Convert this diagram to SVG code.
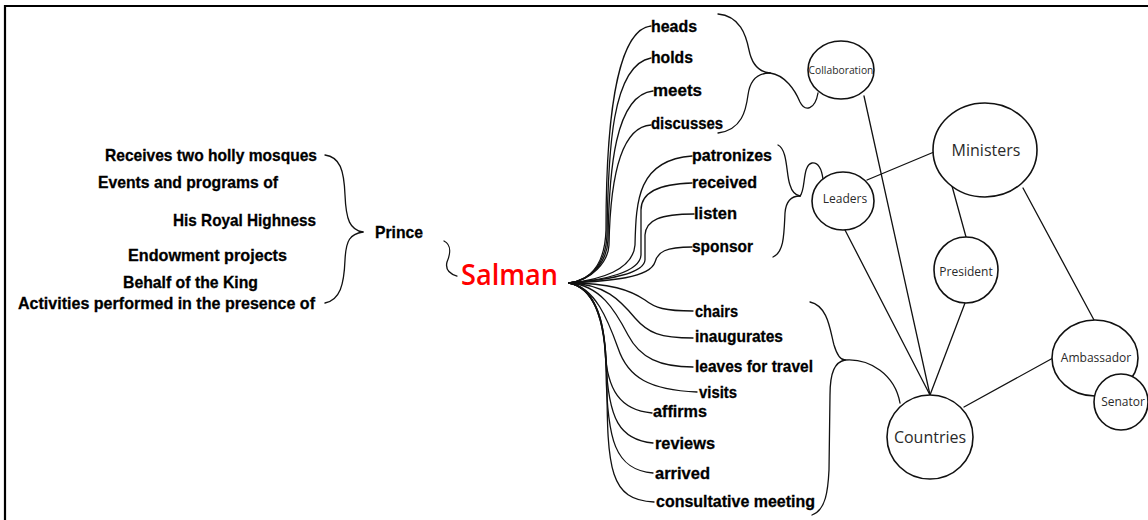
<svg xmlns="http://www.w3.org/2000/svg" width="1148" height="520" viewBox="0 0 1148 520">
<style>
.frame{stroke:#000;stroke-width:2.2;fill:none}
.c{fill:none;stroke:#111;stroke-width:1.3;stroke-linecap:round}
.e{fill:#fff;stroke:#111;stroke-width:1.6}
.v{font-family:"Liberation Sans",Arial,sans-serif;font-weight:bold;font-size:17px;fill:#000;stroke:#000;stroke-width:0.3}
.lt{font-family:"Liberation Sans",Arial,sans-serif;font-weight:bold;font-size:17px;fill:#000;stroke:#000;stroke-width:0.3}
.n{font-family:"Open Sans","Noto Sans",sans-serif;fill:#2a2a2a;text-anchor:middle}
</style>
<rect width="1148" height="520" fill="#fff"/>
<path class="frame" d="M4,6 H1148 M5,5 V520"/>

<g id="connectors">
  <path class="c" d="M325,155 C340,157 344,170 345,195 C346,220 350,230 363,232"/>
  <path class="c" d="M325,303 C340,300 344,285 345,260 C346,240 350,234 363,232"/>
  <path class="c" d="M444,241 C452,245 450,255 447,262 C445,270 450,274 457,276"/>
  <path class="c" d="M569,283 C592,280 605,262 606,230 C606,130 615,30 651,26"/>
  <path class="c" d="M569,283 C592,280 606,262 607,235 C608,150 612,65 651,58"/>
  <path class="c" d="M569,283 C592,280 607,262 608,240 C609,170 615,95 653,91"/>
  <path class="c" d="M569,283 C592,280 608,262 609,245 C610,190 617,127 651,125"/>
  <path class="c" d="M569,283 C600,280 633,270 635,245 C636,200 638,160 692,156"/>
  <path class="c" d="M569,283 C605,280 640,272 641,255 L641,210 C641,195 655,184 692,183"/>
  <path class="c" d="M569,283 C610,280 644,273 645,260 L645,235 C646,220 660,214 694,214"/>
  <path class="c" d="M569,283 C610,281 650,278 655,262 C658,252 665,247 692,247"/>
  <path class="c" d="M569,283 C610,283 630,290 645,300 C655,308 665,311 693,311"/>
  <path class="c" d="M569,283 C605,284 620,300 635,318 C648,333 660,338 693,338"/>
  <path class="c" d="M569,283 C600,285 615,310 628,335 C640,358 660,367 693,367"/>
  <path class="c" d="M569,283 C595,287 608,320 618,348 C628,378 650,390 697,392"/>
  <path class="c" d="M569,283 C590,287 603,310 605,350 C607,390 620,410 652,413"/>
  <path class="c" d="M569,283 C590,287 604,310 606,360 C608,420 620,440 653,443"/>
  <path class="c" d="M569,283 C590,287 605,310 606,370 C607,440 615,470 653,473"/>
  <path class="c" d="M569,283 C590,287 606,310 607,380 C607,470 610,500 654,502"/>
  <path class="c" d="M718,14 C740,16 746,35 749,50 C752,65 760,72 770,73"/>
  <path class="c" d="M718,133 C742,130 746,110 748,95 C750,80 757,73 770,73"/>
  <path class="c" d="M770,73 C785,75 795,90 800,102 C805,112 815,110 818,93"/>
  <path class="c" d="M778,145 C788,150 786,175 790,185 C792,192 795,195 800,196"/>
  <path class="c" d="M773,257 C784,252 784,235 785,213 C786,200 792,196 800,196"/>
  <path class="c" d="M800,196 C806,190 802,165 812,163 C820,162 822,172 823,179"/>
  <path class="c" d="M810,302 C828,306 830,330 834,345 C837,355 840,360 845,360"/>
  <path class="c" d="M812,515 C826,510 828,490 829,470 L830,395 C830,372 835,362 845,360"/>
  <path class="c" d="M845,360 C870,358 895,375 900,403"/>
  <path class="c" d="M864,96 L930,395"/>
  <path class="c" d="M845,230 L930,395"/>
  <path class="c" d="M867,180 L934,152"/>
  <path class="c" d="M952,186 L966,237"/>
  <path class="c" d="M1023,188 L1094,320"/>
  <path class="c" d="M965,303 L930,395"/>
  <path class="c" d="M1053,358 L964,407"/>
</g>

<g id="left-labels">
  <text class="lt" x="105" y="161" textLength="212" lengthAdjust="spacingAndGlyphs">Receives two holly mosques</text>
  <text class="lt" x="98" y="188" textLength="180" lengthAdjust="spacingAndGlyphs">Events and programs of</text>
  <text class="lt" x="173" y="226" textLength="143" lengthAdjust="spacingAndGlyphs">His Royal Highness</text>
  <text class="lt" x="128" y="261" textLength="159" lengthAdjust="spacingAndGlyphs">Endowment projects</text>
  <text class="lt" x="123" y="288" textLength="135" lengthAdjust="spacingAndGlyphs">Behalf of the King</text>
  <text class="lt" x="18" y="309" textLength="297" lengthAdjust="spacingAndGlyphs">Activities performed in the presence of</text>
</g>
<g id="prince"><text class="lt" x="375" y="238" textLength="48" lengthAdjust="spacingAndGlyphs">Prince</text></g>
<g id="salman"><text x="461" y="285" font-family="'Open Sans','Noto Sans',sans-serif" font-size="28" font-weight="600" fill="#ff0000" textLength="97" lengthAdjust="spacingAndGlyphs">Salman</text></g>

<g id="verbs">
  <text class="v" x="651" y="32" textLength="46" lengthAdjust="spacingAndGlyphs">heads</text>
  <text class="v" x="651" y="63" textLength="42" lengthAdjust="spacingAndGlyphs">holds</text>
  <text class="v" x="653" y="96" textLength="49" lengthAdjust="spacingAndGlyphs">meets</text>
  <text class="v" x="651" y="129" textLength="72" lengthAdjust="spacingAndGlyphs">discusses</text>
  <text class="v" x="692" y="161" textLength="80" lengthAdjust="spacingAndGlyphs">patronizes</text>
  <text class="v" x="692" y="188" textLength="65" lengthAdjust="spacingAndGlyphs">received</text>
  <text class="v" x="694" y="219" textLength="43" lengthAdjust="spacingAndGlyphs">listen</text>
  <text class="v" x="692" y="252" textLength="61" lengthAdjust="spacingAndGlyphs">sponsor</text>
  <text class="v" x="695" y="317" textLength="43" lengthAdjust="spacingAndGlyphs">chairs</text>
  <text class="v" x="695" y="342" textLength="88" lengthAdjust="spacingAndGlyphs">inaugurates</text>
  <text class="v" x="695" y="372" textLength="118" lengthAdjust="spacingAndGlyphs">leaves for travel</text>
  <text class="v" x="699" y="398" textLength="38" lengthAdjust="spacingAndGlyphs">visits</text>
  <text class="v" x="653" y="417" textLength="54" lengthAdjust="spacingAndGlyphs">affirms</text>
  <text class="v" x="655" y="449" textLength="60" lengthAdjust="spacingAndGlyphs">reviews</text>
  <text class="v" x="655" y="479" textLength="55" lengthAdjust="spacingAndGlyphs">arrived</text>
  <text class="v" x="656" y="507" textLength="159" lengthAdjust="spacingAndGlyphs">consultative meeting</text>
</g>

<g id="collaboration"><ellipse class="e" cx="841" cy="70" rx="33" ry="29"/><text class="n" x="841" y="74" font-size="10.3">Collaboration</text></g>
<g id="ministers"><ellipse class="e" cx="985" cy="150" rx="52" ry="47"/><text class="n" x="986" y="156" font-size="16">Ministers</text></g>
<g id="leaders"><ellipse class="e" cx="843" cy="201" rx="31" ry="29"/><text class="n" x="845" y="203" font-size="12">Leaders</text></g>
<g id="president"><ellipse class="e" cx="966" cy="270" rx="32" ry="33"/><text class="n" x="966" y="276" font-size="12">President</text></g>
<g id="countries"><ellipse class="e" cx="930" cy="437" rx="43" ry="42"/><text class="n" x="930" y="443" font-size="16">Countries</text></g>
<g id="ambassador"><ellipse class="e" cx="1095" cy="358" rx="43" ry="38"/><text class="n" x="1096" y="362" font-size="12">Ambassador</text></g>
<g id="senator"><ellipse class="e" cx="1121" cy="402" rx="27" ry="28"/><text class="n" x="1123" y="406" font-size="12">Senator</text></g>
</svg>
